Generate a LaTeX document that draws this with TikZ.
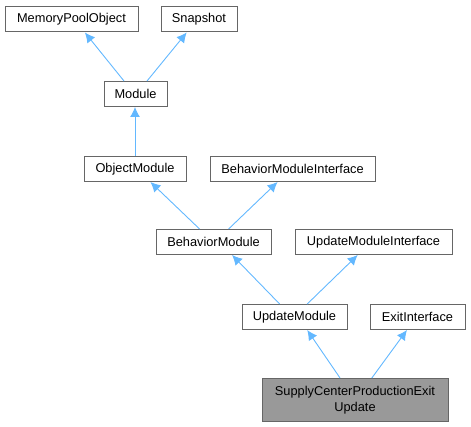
\documentclass[tikz,border=0pt]{standalone}
\usepackage{fontspec}
\setmainfont{Liberation Sans}
\usetikzlibrary{arrows.meta,positioning,calc}
\definecolor{edgeblue}{HTML}{63B8FF}
\definecolor{boxline}{HTML}{666666}
\definecolor{leafgray}{HTML}{999999}
\tikzset{
    cls/.style={
        draw=boxline,
        line width=1pt,
        fill=white,
        align=center,
        inner sep=0pt,
        minimum height=25pt,
        font=\fontsize{12.8}{16}\selectfont
    },
    leaf/.style={
        cls,
        fill=leafgray,
        minimum height=43pt
    },
    inherit/.style={-{Latex[length=10pt,width=10pt]}, draw=edgeblue, line width=0.9pt}
}

\begin{document}
\begin{tikzpicture}[x=1pt,y=-1pt]
        \useasboundingbox (0,0) rectangle (471,427);
        \node[cls, minimum width=133pt] (mpo) at (71.5,19.5) {MemoryPoolObject};
        \node[cls, minimum width=76pt] (snap) at (199,19.5) {Snapshot};
        \node[cls, minimum width=63pt] (module) at (135.5,94) {Module};
        \node[cls, minimum width=102pt] (objmod) at (135,169) {ObjectModule};
        \node[cls, minimum width=165pt] (bmi) at (292.5,169) {BehaviorModuleInterface};
        \node[cls, minimum width=115pt] (behmod) at (213.5,242) {BehaviorModule};
        \node[cls, minimum width=157pt] (umi) at (373.5,242) {UpdateModuleInterface};
        \node[cls, minimum width=105pt] (updmod) at (294.5,317) {UpdateModule};
        \node[cls, minimum width=95pt] (exit) at (417.5,317) {ExitInterface};
        \node[leaf, minimum width=186pt] (supply) at (355,400) {SupplyCenterProductionExit\\Update};

        \draw[inherit] ($(module.north west)!0.32!(module.north east)$) -- ($(mpo.south west)!0.6!(mpo.south east)$);
        \draw[inherit] ($(module.north west)!0.68!(module.north east)$) -- ($(snap.south west)!0.34!(snap.south east)$);
        \draw[inherit] (objmod.north) -- (objmod.north |- module.south);
        \draw[inherit] ($(behmod.north west)!0.38!(behmod.north east)$) -- ($(objmod.south west)!0.65!(objmod.south east)$);
        \draw[inherit] ($(behmod.north west)!0.63!(behmod.north east)$) -- ($(bmi.south west)!0.41!(bmi.south east)$);
        \draw[inherit] ($(updmod.north west)!0.36!(updmod.north east)$) -- ($(behmod.south west)!0.66!(behmod.south east)$);
        \draw[inherit] ($(updmod.north west)!0.62!(updmod.north east)$) -- ($(umi.south west)!0.4!(umi.south east)$);
        \draw[inherit] ($(supply.north west)!0.42!(supply.north east)$) -- ($(updmod.south west)!0.62!(updmod.south east)$);
        \draw[inherit] ($(supply.north west)!0.59!(supply.north east)$) -- ($(exit.south west)!0.39!(exit.south east)$);
    \end{tikzpicture}
\end{document}
